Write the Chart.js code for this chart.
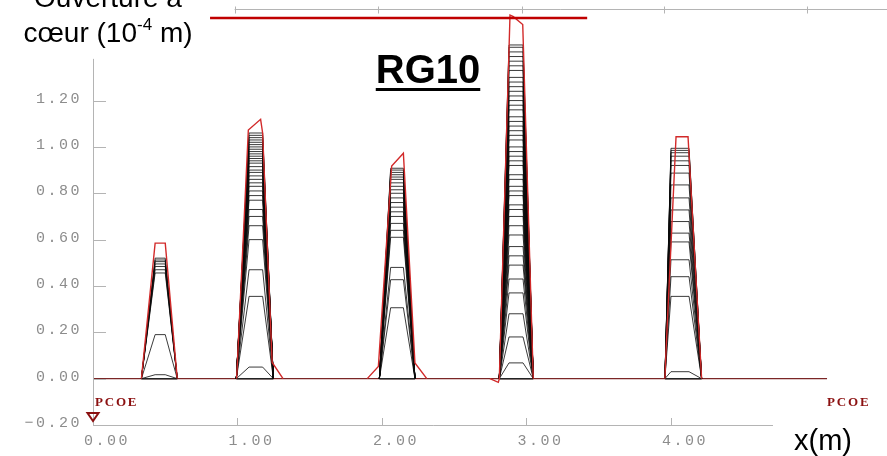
<!DOCTYPE html>
<html>
<head>
<meta charset="utf-8">
<script src="https://cdn.jsdelivr.net/npm/chart.js@4.4.0/dist/chart.umd.min.js"></script>
<style>
    body { margin: 0; background: #fff; }
    #wrap { width: 887px; height: 456px; position: relative; }
</style>
</head>
<body>
<div id="wrap"><canvas id="crackChart"></canvas></div>
<script>
// fissures : pieds et coins du haut de chaque profil (m)
const crackFootL = [0.335, 0.992, 1.982, 2.812, 3.958];
const crackTopL = [0.430, 1.080, 2.060, 2.879, 4.000];
const crackTopR = [0.500, 1.174, 2.148, 2.976, 4.125];
const crackFootR = [0.583, 1.248, 2.228, 3.047, 4.212];

// ouverture a coeur pour chaque pas de chargement (10^-4 m)
const openings1 = [0.017, 0.19, 0.456, 0.470, 0.484, 0.495, 0.505, 0.512, 0.520];
const openings2 = [0.05, 0.355, 0.47, 0.60, 0.66, 0.70, 0.73, 0.77, 0.79, 0.81, 0.83, 0.845, 0.86,
    0.875, 0.89, 0.90, 0.915, 0.93, 0.94, 0.95, 0.96, 0.97, 0.98, 0.99, 1.00, 1.01, 1.02, 1.03,
    1.04, 1.05, 1.06];
const openings3 = [0.306, 0.427, 0.48, 0.61, 0.64, 0.67, 0.70, 0.72, 0.74, 0.76, 0.78, 0.80, 0.815,
    0.83, 0.845, 0.86, 0.87, 0.88, 0.89, 0.90, 0.908];
const openings4 = [0.068, 0.18, 0.28, 0.37, 0.43, 0.49, 0.53, 0.57, 0.62, 0.66, 0.70, 0.73, 0.75,
    0.79, 0.81, 0.83, 0.86, 0.88, 0.92, 0.94, 0.96, 0.98, 1.00, 1.03, 1.05, 1.07, 1.09, 1.11, 1.13,
    1.16, 1.18, 1.20, 1.22, 1.24, 1.26, 1.28, 1.30, 1.33, 1.35, 1.37, 1.39, 1.41, 1.43, 1.44];
const openings5 = [0.03, 0.355, 0.44, 0.513, 0.59, 0.628, 0.678, 0.728, 0.78, 0.836, 0.887, 0.92,
    0.94, 0.96, 0.975, 0.985, 0.994];
const openingsAll = [openings1, openings2, openings3, openings4, openings5];

// enveloppe du dernier pas (rouge)
const envX1 = [0.335, 0.430, 0.500, 0.583];
const envY1 = [0, 0.585, 0.585, 0];
const envX2 = [0.994, 1.075, 1.160, 1.174, 1.240, 1.315];
const envY2 = [0, 1.073, 1.119, 1.060, 0.070, 0];
const envX3 = [1.898, 1.975, 2.067, 2.148, 2.228, 2.310];
const envY3 = [0, 0.053, 0.918, 0.973, 0.068, 0];
const envX4 = [2.747, 2.805, 2.812, 2.886, 2.909, 2.974, 3.047];
const envY4 = [0, -0.016, 0, 1.569, 1.562, 1.528, 0];
const envX5 = [3.958, 3.965, 4.035, 4.118, 4.212];
const envY5 = [0, 0.11, 1.044, 1.044, 0];
const envXAll = [envX1, envX2, envX3, envX4, envX5];
const envYAll = [envY1, envY2, envY3, envY4, envY5];

// ligne de base et axes
const baseX = [0, 5.08];
const xTicks = [0, 1, 2, 3, 4];
const yTicks = [-0.2, 0, 0.2, 0.4, 0.6, 0.8, 1.0, 1.2];
const topTicks = [0.98, 1.97, 2.97, 3.95, 4.94];

const tickFont = { family: "'Liberation Mono', 'DejaVu Sans Mono', monospace", size: 15 };
const tickColor = "#8c8c8c";
const axisColor = "#b4b4b4";
const pcoeColor = "#8b1010";
const textFont = "'Liberation Sans', Arial, sans-serif";

function toPoints(xs, ys) {
    let pts = [];
    for (let i = 0; i < xs.length; i++) {
        pts.push({ x: xs[i], y: ys[i] });
    }
    return pts;
}

let datasets = [];

// enveloppes rouges au dessus
envXAll.forEach((xs, i) => {
    datasets.push({
        data: toPoints(xs, envYAll[i]),
        borderColor: "#d22a2a",
        borderWidth: 1.4
    });
});

// profils noirs
openingsAll.forEach((list, c) => {
    list.forEach(h => {
        datasets.push({
            data: [
                { x: crackFootL[c], y: 0 },
                { x: crackTopL[c], y: h },
                { x: crackTopR[c], y: h },
                { x: crackFootR[c], y: 0 }
            ],
            borderColor: "rgba(10,10,10,0.8)",
            borderWidth: 1
        });
    });
    datasets.push({
        data: [{ x: crackFootL[c], y: 0 }, { x: crackFootR[c], y: 0 }],
        borderColor: "#222",
        borderWidth: 1.5
    });
});

// ligne y = 0
datasets.push({
    data: toPoints(baseX, [0, 0]),
    borderColor: "#7b2626",
    borderWidth: 1.4
});

datasets.forEach(ds => {
    ds.showLine = true;
    ds.pointRadius = 0;
    ds.tension = 0;
    ds.fill = false;
});

const decoPlugin = {
    id: "deco",
    beforeDraw(chart) {
        chart.ctx.letterSpacing = "2.5px";
    },
    afterDraw(chart) {
        const ctx = chart.ctx;
        const xs = chart.scales.x;
        const ys = chart.scales.y;
        ctx.save();
        ctx.letterSpacing = "0px";

        // axes gris
        const x0 = xs.getPixelForValue(0);
        const yB = ys.getPixelForValue(-0.2);
        ctx.strokeStyle = axisColor;
        ctx.lineWidth = 1;
        ctx.beginPath();
        ctx.moveTo(x0 + 0.5, ys.getPixelForValue(1.38));
        ctx.lineTo(x0 + 0.5, yB + 0.5);
        ctx.lineTo(xs.getPixelForValue(4.706), yB + 0.5);
        yTicks.forEach(v => {
            const py = Math.round(ys.getPixelForValue(v)) + 0.5;
            ctx.moveTo(x0, py);
            ctx.lineTo(x0 + 13, py);
        });
        xTicks.forEach(v => {
            const px = Math.round(xs.getPixelForValue(v)) + 0.5;
            ctx.moveTo(px, yB);
            ctx.lineTo(px, yB - 7);
        });
        // axe du haut
        const yT = Math.round(ys.getPixelForValue(1.595)) + 0.5;
        ctx.moveTo(xs.getPixelForValue(0.98), yT);
        ctx.lineTo(chart.width, yT);
        topTicks.forEach(v => {
            const px = Math.round(xs.getPixelForValue(v)) + 0.5;
            ctx.moveTo(px, yT - 3);
            ctx.lineTo(px, yT + 4);
        });
        ctx.stroke();

        // trait rouge du titre
        ctx.strokeStyle = "#c00000";
        ctx.lineWidth = 2.5;
        ctx.beginPath();
        ctx.moveTo(xs.getPixelForValue(0.81), ys.getPixelForValue(1.556));
        ctx.lineTo(xs.getPixelForValue(3.42), ys.getPixelForValue(1.556));
        ctx.stroke();

        // appuis PCOE
        ctx.fillStyle = pcoeColor;
        ctx.font = "bold 13px 'Liberation Serif', serif";
        ctx.letterSpacing = "1.8px";
        ctx.textBaseline = "middle";
        ctx.textAlign = "left";
        const yP = ys.getPixelForValue(-0.104);
        ctx.fillText("PCOE", x0 + 2, yP);
        ctx.fillText("PCOE", xs.getPixelForValue(5.08), yP);
        ctx.letterSpacing = "0px";
        ctx.strokeStyle = pcoeColor;
        ctx.lineWidth = 2;
        ctx.beginPath();
        ctx.moveTo(x0 - 5.5, yB - 12);
        ctx.lineTo(x0 + 5.5, yB - 12);
        ctx.lineTo(x0, yB - 4);
        ctx.closePath();
        ctx.stroke();

        // textes
        ctx.fillStyle = "#000";
        ctx.textAlign = "center";
        ctx.textBaseline = "alphabetic";
        ctx.font = "bold 40px " + textFont;
        ctx.fillText("RG10", 428, 83);
        const w = ctx.measureText("RG10").width;
        ctx.fillRect(428 - w / 2, 88, w, 3);

        ctx.font = "28px " + textFont;
        ctx.fillText("Ouverture à", 108, 7);
        ctx.textAlign = "left";
        const part1 = "cœur (10";
        const part2 = "-4";
        const part3 = " m)";
        const w1 = ctx.measureText(part1).width;
        const w3 = ctx.measureText(part3).width;
        ctx.font = "17px " + textFont;
        const w2 = ctx.measureText(part2).width;
        let sx = 108 - (w1 + w2 + w3) / 2;
        ctx.font = "28px " + textFont;
        ctx.fillText(part1, sx, 42);
        ctx.font = "17px " + textFont;
        ctx.fillText(part2, sx + w1, 30);
        ctx.font = "28px " + textFont;
        ctx.fillText(part3, sx + w1 + w2, 42);

        ctx.font = "29px " + textFont;
        ctx.fillText("x(m)", 794, 450);
        ctx.restore();
    }
};

window.addEventListener("load", () => {
    const chartDOM = document.getElementById("crackChart").getContext("2d");

    const config = {
        type: "scatter",
        data: { datasets: datasets },
        options: {
            responsive: true,
            maintainAspectRatio: false,
            animation: false,
            layout: { padding: { left: 0, right: 6.5, top: 0, bottom: 0 } },
            scales: {
                x: {
                    type: "linear",
                    min: 0,
                    max: 5.45,
                    afterBuildTicks: (scale) => {
                        scale.ticks = xTicks.map(v => ({ value: v }));
                    },
                    afterFit: (scale) => {
                        scale.height = 31;
                        scale.paddingLeft = 0;
                        scale.paddingRight = 0;
                        scale.paddingTop = 0;
                        scale.paddingBottom = 0;
                    },
                    grid: { display: false, drawTicks: false },
                    border: { display: false },
                    ticks: {
                        font: tickFont,
                        color: tickColor,
                        padding: 7,
                        labelOffset: 14,
                        maxRotation: 0,
                        autoSkip: false,
                        callback: (value) => value.toFixed(2)
                    }
                },
                y: {
                    type: "linear",
                    min: -0.2,
                    max: 1.634,
                    afterBuildTicks: (scale) => {
                        scale.ticks = yTicks.map(v => ({ value: v }));
                    },
                    afterFit: (scale) => {
                        scale.width = 93;
                        scale.paddingLeft = 0;
                        scale.paddingRight = 0;
                        scale.paddingTop = 0;
                        scale.paddingBottom = 0;
                    },
                    grid: { display: false, drawTicks: false },
                    border: { display: false },
                    ticks: {
                        font: tickFont,
                        color: tickColor,
                        padding: 11,
                        labelOffset: -2,
                        autoSkip: false,
                        callback: (value) => (value < 0 ? "\u2212" + Math.abs(value).toFixed(2) : value.toFixed(2))
                    }
                }
            },
            plugins: {
                legend: { display: false },
                tooltip: { enabled: false }
            }
        },
        plugins: [decoPlugin]
    };

    const crackChart = new Chart(chartDOM, config);
});
</script>
</body>
</html>
